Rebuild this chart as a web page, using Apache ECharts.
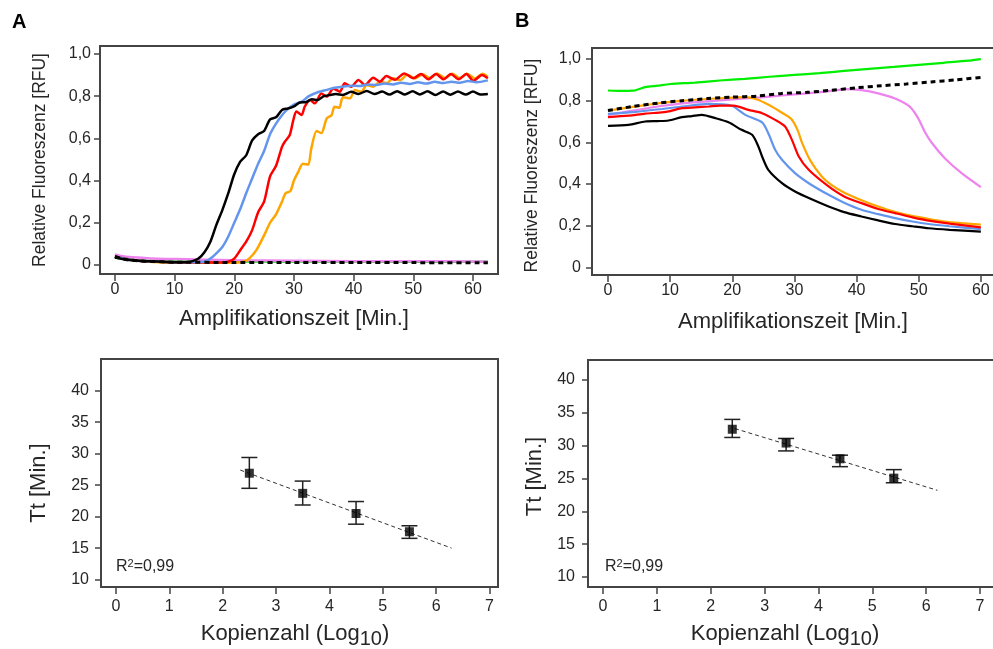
<!DOCTYPE html>
<html><head><meta charset="utf-8">
<script src="https://cdn.jsdelivr.net/npm/echarts@6/dist/echarts.min.js"></script>
<style>html,body{margin:0;padding:0;background:#fff;overflow:hidden}#c{width:993px;height:649px}</style>
</head><body><div id="c"></div><script>
// ---------------- DATA ----------------
// Panel A (top left): relative fluorescence vs. amplification time
const aTicksX = [0, 10, 20, 30, 40, 50, 60];
const aTicksY = [0, 0.2, 0.4, 0.6, 0.8, 1.0];
const aBlack = [[0,0.035],[2,0.025],[4,0.02],[6,0.017],[8,0.015],[10,0.013],[12,0.013],[13,0.018],[14,0.03],[15,0.06],[16,0.11],[17,0.19],[18,0.26],[19,0.34],[20,0.43],[21,0.49],[22,0.52],[23,0.59],[24,0.62],[25,0.635],[26,0.69],[27,0.70],[28,0.735],[29,0.742],[30,0.752],[31,0.77],[32,0.772],[33,0.785],[34,0.782],[35,0.80],[36,0.805],[37,0.81],[38.2,0.806],[39.6,0.821],[40.8,0.81],[42.2,0.825],[43.5,0.81],[44.8,0.822],[46,0.808],[47.3,0.824],[48.6,0.808],[49.9,0.823],[51.1,0.808],[52.4,0.823],[53.7,0.806],[55,0.822],[56.2,0.807],[57.5,0.822],[58.8,0.808],[60,0.822],[61.3,0.808],[62.5,0.81]];
const aBlue = [[0,0.04],[2,0.028],[4,0.02],[6,0.017],[8,0.015],[10,0.013],[12,0.013],[14,0.013],[15,0.015],[16,0.03],[17,0.055],[18,0.085],[19,0.135],[20,0.20],[21,0.265],[22,0.34],[23,0.41],[24,0.48],[25,0.54],[26,0.62],[27,0.67],[28,0.71],[29,0.74],[30,0.76],[31.3,0.774],[32.5,0.80],[34.1,0.82],[35.5,0.83],[36.8,0.84],[38.2,0.845],[39.6,0.85],[41,0.848],[42.4,0.856],[43.8,0.853],[45.2,0.86],[46.6,0.856],[48,0.864],[49.4,0.858],[50.8,0.866],[52.2,0.86],[53.6,0.868],[55,0.862],[56.4,0.869],[57.8,0.864],[59.2,0.872],[60.6,0.866],[62.5,0.875]];
const aRed = [[0,0.04],[2,0.028],[4,0.02],[6,0.017],[8,0.015],[10,0.012],[12,0.012],[14,0.012],[16,0.012],[18,0.012],[19,0.015],[20,0.03],[21,0.07],[22,0.11],[23,0.165],[24,0.25],[25,0.30],[26,0.42],[27,0.47],[28,0.56],[28.5,0.585],[29.3,0.616],[29.9,0.687],[30.4,0.727],[31.3,0.711],[31.8,0.75],[32.7,0.782],[33.5,0.766],[34.6,0.813],[35.5,0.798],[36.6,0.837],[37.7,0.821],[38.5,0.861],[39.6,0.845],[40.8,0.877],[41.9,0.853],[43.3,0.888],[44.4,0.869],[45.5,0.896],[46.9,0.878],[48.5,0.908],[50,0.885],[51.3,0.905],[52.5,0.88],[53.8,0.905],[55.1,0.88],[56.3,0.905],[57.6,0.88],[58.9,0.905],[60.1,0.873],[61.5,0.90],[62.5,0.885]];
const aOrange = [[0,0.04],[2,0.028],[4,0.02],[6,0.015],[8,0.012],[10,0.01],[12,0.01],[14,0.01],[16,0.01],[18,0.01],[20,0.01],[21.5,0.015],[22.5,0.03],[23.7,0.07],[25,0.14],[26,0.2],[27,0.24],[28,0.3],[28.6,0.34],[29.4,0.35],[30,0.40],[30.7,0.44],[31.5,0.48],[32.4,0.475],[32.9,0.55],[33.8,0.635],[34.6,0.625],[35.5,0.695],[36.3,0.71],[36.8,0.75],[37.6,0.745],[38.2,0.795],[39.4,0.79],[40.2,0.829],[41.3,0.821],[42.2,0.853],[43.3,0.845],[44.4,0.869],[45.6,0.862],[46.6,0.885],[47.8,0.876],[49,0.902],[50.3,0.884],[51.6,0.904],[52.8,0.885],[54,0.908],[55.3,0.886],[56.6,0.907],[57.8,0.886],[59,0.907],[60.3,0.884],[61.6,0.906],[62.5,0.892]];
const aPink = [[0,0.05],[1,0.042],[3,0.036],[6,0.031],[10,0.028],[15,0.025],[20,0.022],[30,0.02],[40,0.018],[50,0.018],[62.5,0.015]];
const aGreen = [[0,0.035],[2,0.026],[5,0.02],[10,0.016],[20,0.016],[40,0.016],[62.5,0.015]];
const aDotted = [[0,0.04],[2,0.025],[5,0.018],[10,0.013],[20,0.012],[30,0.012],[40,0.012],[50,0.011],[62.5,0.01]];

// Panel B (top right)
const bTicksX = [0, 10, 20, 30, 40, 50, 60];
const bTicksY = [0, 0.2, 0.4, 0.6, 0.8, 1.0];
const bGreen = [[0,0.849],[2,0.847],[4,0.848],[6,0.865],[8,0.872],[10,0.88],[14,0.887],[18,0.897],[22,0.905],[26,0.915],[30,0.924],[34,0.932],[38,0.943],[42,0.953],[46,0.962],[50,0.972],[54,0.982],[58,0.992],[60,1.0]];
const bDotted = [[0,0.753],[4,0.772],[8,0.788],[12,0.8],[16,0.81],[20,0.817],[24,0.822],[28,0.835],[32,0.84],[36,0.85],[40,0.862],[44,0.872],[48,0.88],[52,0.89],[56,0.9],[60,0.912]];
const bPink = [[0,0.732],[4,0.752],[8,0.772],[12,0.787],[16,0.797],[20,0.806],[24,0.815],[28,0.825],[32,0.835],[36,0.847],[38.2,0.856],[40.8,0.851],[43.5,0.835],[46.2,0.81],[48.6,0.77],[49.9,0.716],[51,0.65],[52.1,0.598],[54.2,0.524],[56.9,0.452],[60,0.385]];
const bOrange = [[0,0.752],[4,0.77],[8,0.787],[12,0.8],[16,0.808],[20,0.815],[22,0.817],[24,0.806],[26,0.778],[28,0.742],[29.5,0.712],[30.5,0.66],[31.2,0.6],[32.5,0.516],[34.4,0.436],[36,0.395],[38.2,0.356],[41,0.32],[43.5,0.292],[46,0.268],[48.9,0.247],[51.5,0.233],[54.2,0.22],[57,0.212],[60,0.205]];
const bRed = [[0,0.721],[3.3,0.728],[6,0.738],[8.7,0.744],[10,0.75],[11.9,0.764],[14,0.768],[16.2,0.772],[18,0.776],[20.2,0.776],[22.6,0.756],[24.8,0.74],[26.9,0.708],[28.5,0.676],[29.6,0.612],[30.7,0.532],[32.3,0.468],[35.5,0.388],[38,0.34],[40.8,0.308],[43.5,0.28],[46.2,0.26],[49,0.24],[51.6,0.224],[55,0.21],[60,0.192]];
const bBlue = [[0,0.737],[4,0.745],[8.7,0.76],[12,0.772],[16.2,0.785],[19.9,0.776],[22.1,0.732],[24.8,0.696],[25.8,0.644],[26.9,0.564],[28,0.516],[30.1,0.452],[32.5,0.4],[35.5,0.348],[38,0.31],[40.8,0.276],[43.5,0.255],[46.2,0.236],[49,0.22],[51.6,0.208],[55,0.197],[60,0.183]];
const bBlack = [[0,0.679],[3.3,0.684],[6,0.70],[8,0.702],[9.75,0.705],[11.9,0.721],[13.5,0.726],[15.1,0.732],[17.3,0.716],[19.4,0.696],[21.5,0.66],[23.2,0.636],[24.2,0.58],[24.8,0.532],[25.8,0.468],[28,0.404],[30.1,0.364],[32.5,0.33],[35.5,0.292],[38,0.265],[40.8,0.244],[43.5,0.225],[46.2,0.208],[49,0.197],[51.6,0.1875],[55,0.18],[60,0.171]];

// Bottom panels: Tt vs. copy number
const cTicksX = [0, 1, 2, 3, 4, 5, 6, 7];
const cTicksY = [10, 15, 20, 25, 30, 35, 40];
const cLog = [2.5, 3.5, 4.5, 5.5];
const cMean = [26.9, 23.7, 20.5, 17.6];
const cLow = [24.5, 21.85, 18.8, 16.55];
const cHigh = [29.4, 25.65, 22.4, 18.55];
const cFit = [[2.33, 27.4], [6.29, 15.0]];
const dLog = [2.4, 3.4, 4.4, 5.4];
const dMean = [32.5, 30.4, 28.0, 25.05];
const dLow = [31.25, 29.2, 26.8, 24.35];
const dHigh = [34.0, 31.1, 28.55, 26.35];
const dFit = [[2.45, 32.6], [6.21, 23.2]];
const r2Text = '0,99';

// ---------------- CHART ----------------
const FONT = '"Liberation Sans", Arial, sans-serif';
const TXT = '#262626';
const FRAME = '#444';
const dec = v => (v === 0 ? '0' : v.toFixed(1).replace('.', ','));

function grid(left, top, width, height) {
  return { left, top, width, height, show: true, borderColor: FRAME, borderWidth: 2,
           backgroundColor: 'transparent', containLabel: false, outerBoundsMode: 'none' };
}
function xAx(gi, min, max, ticks, margin, name, nameGap, nameStyle) {
  return { type: 'value', gridIndex: gi, min, max, position: 'bottom',
    axisLine: { show: false, onZero: false }, splitLine: { show: false },
    axisTick: { show: true, length: 7, customValues: ticks, lineStyle: { color: FRAME, width: 1.5 } },
    axisLabel: { customValues: ticks, margin, color: TXT, fontSize: 16, fontFamily: FONT },
    name, nameLocation: 'middle', nameGap, nameMoveOverlap: false, nameTextStyle: nameStyle };
}
function yAx(gi, min, max, ticks, margin, fmt, name, nameGap, nameStyle) {
  return { type: 'value', gridIndex: gi, min, max, position: 'left',
    axisLine: { show: false, onZero: false }, splitLine: { show: false },
    axisTick: { show: true, length: 6, customValues: ticks, lineStyle: { color: FRAME, width: 1.5 } },
    axisLabel: { customValues: ticks, margin, color: TXT, fontSize: 16, fontFamily: FONT, formatter: fmt },
    name, nameLocation: 'middle', nameGap, nameMoveOverlap: false, nameTextStyle: nameStyle };
}
const bigName = (size, pad) => ({ color: TXT, fontSize: size, fontFamily: FONT, padding: pad });
const logName = pad => ({ color: TXT, fontFamily: FONT, padding: pad,
  rich: { a: { fontSize: 22, lineHeight: 30, color: TXT, fontFamily: FONT },
          s: { fontSize: 20, lineHeight: 20, verticalAlign: 'bottom', color: TXT, fontFamily: FONT } } });
const logText = '{a|Kopienzahl (Log}{s|10}{a|)}';

function curve(data, xi, color, width, dashed) {
  return { type: 'line', xAxisIndex: xi, yAxisIndex: xi, data, showSymbol: false, symbol: 'none',
    smooth: 0.25, lineStyle: { color, width, type: dashed ? [5, 4] : 'solid', cap: 'butt' }, z: dashed ? 5 : 3 };
}
function errBars(xs, lo, hi, idx) {
  return { type: 'custom', xAxisIndex: idx, yAxisIndex: idx, z: 4,
    data: xs.map((x, i) => [x, lo[i], hi[i]]),
    encode: { x: 0, y: [1, 2] },
    renderItem: (params, api) => {
      const p1 = api.coord([api.value(0), api.value(1)]);
      const p2 = api.coord([api.value(0), api.value(2)]);
      const w = 8, st = { stroke: '#222', lineWidth: 1.5 };
      return { type: 'group', children: [
        { type: 'line', shape: { x1: p1[0], y1: p1[1], x2: p2[0], y2: p2[1] }, style: st },
        { type: 'line', shape: { x1: p1[0] - w, y1: p1[1], x2: p1[0] + w, y2: p1[1] }, style: st },
        { type: 'line', shape: { x1: p2[0] - w, y1: p2[1], x2: p2[0] + w, y2: p2[1] }, style: st }
      ] };
    } };
}
function points(xs, ys, idx) {
  return { type: 'scatter', xAxisIndex: idx, yAxisIndex: idx, z: 6, symbol: 'rect', symbolSize: 9,
    itemStyle: { color: '#000' }, data: xs.map((x, i) => [x, ys[i]]) };
}
function fit(data, idx) {
  return { type: 'line', xAxisIndex: idx, yAxisIndex: idx, data, showSymbol: false, symbol: 'none', z: 3,
    lineStyle: { color: '#333', width: 1, type: [4, 3] } };
}
const r2Rich = { a: { fontSize: 16, lineHeight: 18, fill: TXT, fontFamily: FONT },
                 s: { fontSize: 11, lineHeight: 11, verticalAlign: 'top', fill: TXT, fontFamily: FONT } };

const chart = echarts.init(document.getElementById('c'), null, { renderer: 'canvas' });
chart.setOption({
  backgroundColor: '#fff',
  animation: false,
  grid: [grid(100, 46, 398, 228), grid(592, 48, 405, 227), grid(101, 359, 397, 228), grid(588, 360, 407, 227)],
  xAxis: [
    xAx(0, -2.5, 64.2, aTicksX, 8, 'Amplifikationszeit [Min.]', 34, bigName(22, [0, 10, 0, 0])),
    xAx(1, -2.57, 62.6, bTicksX, 8, 'Amplifikationszeit [Min.]', 36, bigName(22, [0, 3, 0, 0])),
    xAx(2, -0.28, 7.16, cTicksX, 12, logText, 32, logName([0, 9, 0, 0])),
    xAx(3, -0.28, 7.28, cTicksX, 12, logText, 32, logName([0, 13, 0, 0]))
  ],
  yAxis: [
    yAx(0, -0.043, 1.038, aTicksY, 9, dec, 'Relative Fluoreszenz [RFU]', 51, bigName(17.5, [0, 0, 0, 0])),
    yAx(1, -0.037, 1.053, bTicksY, 11, dec, 'Relative Fluoreszenz [RFU]', 51, bigName(17.5, [0, 8, 0, 0])),
    yAx(2, 8.82, 45.05, cTicksY, 12, null, 'Tt [Min.]', 51, bigName(22, [0, 20, 0, 0])),
    yAx(3, 8.47, 43.05, cTicksY, 13, null, 'Tt [Min.]', 42, bigName(22, [0, 6, 0, 0]))
  ],
  series: [
    curve(aGreen, 0, '#22cc22', 2.5), curve(aPink, 0, '#ee82ee', 2.5),
    curve(aOrange, 0, '#ffa500', 2.5), curve(aRed, 0, '#ff0000', 2.5),
    curve(aBlue, 0, '#6495ed', 2.5), curve(aBlack, 0, '#000000', 2.5),
    curve(aDotted, 0, '#000000', 3, true),
    curve(bGreen, 1, '#00ee00', 2.2), curve(bPink, 1, '#ee82ee', 2.2),
    curve(bOrange, 1, '#ffa500', 2.2), curve(bBlue, 1, '#6495ed', 2.2),
    curve(bRed, 1, '#ff0000', 2.2), curve(bBlack, 1, '#000000', 2.2),
    curve(bDotted, 1, '#000000', 3, true),
    fit(cFit, 2), errBars(cLog, cLow, cHigh, 2), points(cLog, cMean, 2),
    fit(dFit, 3), errBars(dLog, dLow, dHigh, 3), points(dLog, dMean, 3)
  ],
  graphic: [
    { type: 'text', left: 12, top: 12, style: { text: 'A', fontSize: 20, fontWeight: 'bold', fill: '#000', fontFamily: FONT } },
    { type: 'text', left: 515, top: 11, style: { text: 'B', fontSize: 20, fontWeight: 'bold', fill: '#000', fontFamily: FONT } },
    { type: 'text', left: 116, top: 558, style: { text: '{a|R}{s|2}{a|=' + r2Text + '}', rich: r2Rich, fill: TXT } },
    { type: 'text', left: 605, top: 558, style: { text: '{a|R}{s|2}{a|=' + r2Text + '}', rich: r2Rich, fill: TXT } }
  ]
});
</script></body></html>
